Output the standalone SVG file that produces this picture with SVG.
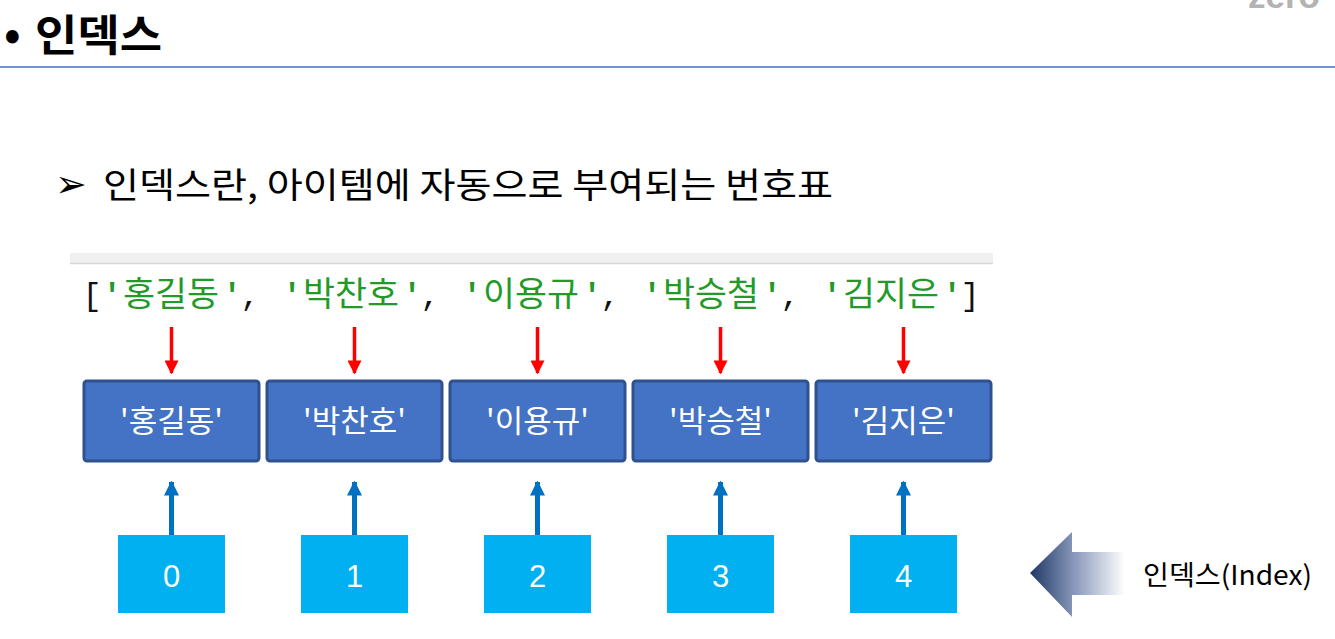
<svg xmlns="http://www.w3.org/2000/svg" width="1335" height="639" viewBox="0 0 1335 639">
<defs>
<style>
.kr{font-family:"Noto Sans CJK KR","Noto Sans",sans-serif}
.mono{font-family:"Liberation Mono","DejaVu Sans Mono",monospace}
.str{fill:#239a28}
.pun{fill:#111}
.box{fill:#4472c4;stroke:#2f528f;stroke-width:3}
.boxt{font-family:"Noto Sans CJK KR","Noto Sans",sans-serif;font-size:31px;fill:#fff;text-anchor:middle}
.idx{fill:#00b0f0}
.idxt{font-family:"Liberation Sans",Arial,sans-serif;font-size:31px;fill:#fff;text-anchor:middle}
.red{stroke:#ff0000;stroke-width:3.5;fill:none}
.blue{stroke:#0070c0;stroke-width:5;fill:none}
</style>
<marker id="ra" viewBox="0 0 10 10" refX="9" refY="5" markerWidth="4" markerHeight="4" markerUnits="strokeWidth" orient="auto">
<path d="M0,0 L10,5 L0,10 z" fill="#ff0000"/>
</marker>
<marker id="ba" viewBox="0 0 10 10" refX="9" refY="5" markerWidth="3" markerHeight="3" markerUnits="strokeWidth" orient="auto">
<path d="M0,0 L10,5 L0,10 z" fill="#0070c0"/>
</marker>
<linearGradient id="ag" gradientUnits="userSpaceOnUse" x1="1030" y1="0" x2="1125" y2="0">
<stop offset="0" stop-color="#1f3864"/>
<stop offset="0.45" stop-color="#8595b8"/>
<stop offset="1" stop-color="#ffffff"/>
</linearGradient>
</defs>
<rect width="1335" height="639" fill="#fff"/>
<text x="1248" y="8" font-family="Liberation Sans,Arial,sans-serif" font-weight="bold" font-size="35" fill="#b3b3b3">zero</text>
<g id="title">
<text x="4" y="50" class="kr" font-size="44" font-weight="bold" fill="#000">•</text>
<text x="35" y="51" class="kr" font-size="43" font-weight="bold" fill="#000" textLength="127" lengthAdjust="spacingAndGlyphs">인덱스</text>
<line x1="0" y1="67" x2="1335" y2="67" stroke="#7393cc" stroke-width="2"/>
</g>
<g id="subtitle">
<text x="55" y="197" font-family="DejaVu Sans,sans-serif" font-size="38" fill="#000">➢</text>
<text x="103" y="198" class="kr" font-size="35" fill="#000" textLength="730" lengthAdjust="spacingAndGlyphs">인덱스란, 아이템에 자동으로 부여되는 번호표</text>
</g>
<g id="code">
<rect x="70" y="253" width="923" height="10" fill="#f0f0f0"/>
<line x1="70" y1="263.5" x2="993" y2="263.5" stroke="#d6d6d6" stroke-width="1.5"/>
<text x="92" y="305" class="mono pun" font-size="32" text-anchor="middle">[</text>
<g class="mono str" font-size="32" font-weight="bold" text-anchor="middle">
<text x="112" y="305">'</text><text x="232" y="305">'</text>
<text x="292" y="305">'</text><text x="412" y="305">'</text>
<text x="472" y="305">'</text><text x="592" y="305">'</text>
<text x="652" y="305">'</text><text x="772" y="305">'</text>
<text x="832" y="305">'</text><text x="952" y="305">'</text>
</g>
<g class="mono pun" font-size="32" text-anchor="middle">
<text x="250" y="305">,</text><text x="430" y="305">,</text><text x="610" y="305">,</text><text x="790" y="305">,</text>
<text x="970" y="305">]</text>
</g>
<g class="kr str" font-size="34">
<text x="123" y="306" textLength="96" lengthAdjust="spacingAndGlyphs">홍길동</text>
<text x="303" y="306" textLength="96" lengthAdjust="spacingAndGlyphs">박찬호</text>
<text x="483" y="306" textLength="96" lengthAdjust="spacingAndGlyphs">이용규</text>
<text x="663" y="306" textLength="96" lengthAdjust="spacingAndGlyphs">박승철</text>
<text x="843" y="306" textLength="96" lengthAdjust="spacingAndGlyphs">김지은</text>
</g>
</g>
<g id="item0"><rect class="box" x="84" y="381" width="175" height="80" rx="3"/><text class="boxt" x="171.5" y="432">'홍길동'</text></g>
<g id="item1"><rect class="box" x="267" y="381" width="175" height="80" rx="3"/><text class="boxt" x="354.5" y="432">'박찬호'</text></g>
<g id="item2"><rect class="box" x="450" y="381" width="175" height="80" rx="3"/><text class="boxt" x="537.5" y="432">'이용규'</text></g>
<g id="item3"><rect class="box" x="633" y="381" width="175" height="80" rx="3"/><text class="boxt" x="720.5" y="432">'박승철'</text></g>
<g id="item4"><rect class="box" x="816" y="381" width="175" height="80" rx="3"/><text class="boxt" x="903.5" y="432">'김지은'</text></g>
<g id="index0"><rect class="idx" x="118" y="535" width="107" height="78"/><text class="idxt" x="171.5" y="587">0</text></g>
<g id="index1"><rect class="idx" x="301" y="535" width="107" height="78"/><text class="idxt" x="354.5" y="587">1</text></g>
<g id="index2"><rect class="idx" x="484" y="535" width="107" height="78"/><text class="idxt" x="537.5" y="587">2</text></g>
<g id="index3"><rect class="idx" x="667" y="535" width="107" height="78"/><text class="idxt" x="720.5" y="587">3</text></g>
<g id="index4"><rect class="idx" x="850" y="535" width="107" height="78"/><text class="idxt" x="903.5" y="587">4</text></g>
<g id="connectors">
<line class="red" x1="171.5" y1="327" x2="171.5" y2="373" marker-end="url(#ra)"/>
<line class="red" x1="354.5" y1="327" x2="354.5" y2="373" marker-end="url(#ra)"/>
<line class="red" x1="537.5" y1="327" x2="537.5" y2="373" marker-end="url(#ra)"/>
<line class="red" x1="720.5" y1="327" x2="720.5" y2="373" marker-end="url(#ra)"/>
<line class="red" x1="903.5" y1="327" x2="903.5" y2="373" marker-end="url(#ra)"/>
<line class="blue" x1="171.5" y1="535" x2="171.5" y2="482" marker-end="url(#ba)"/>
<line class="blue" x1="354.5" y1="535" x2="354.5" y2="482" marker-end="url(#ba)"/>
<line class="blue" x1="537.5" y1="535" x2="537.5" y2="482" marker-end="url(#ba)"/>
<line class="blue" x1="720.5" y1="535" x2="720.5" y2="482" marker-end="url(#ba)"/>
<line class="blue" x1="903.5" y1="535" x2="903.5" y2="482" marker-end="url(#ba)"/>
</g>
<g id="index-label">
<polygon points="1030,573 1072,532 1072,552 1126,552 1126,595 1072,595 1072,617" fill="url(#ag)"/>
<text x="1143" y="585" class="kr" font-size="27" fill="#000" textLength="169" lengthAdjust="spacingAndGlyphs">인덱스(Index)</text>
</g>
</svg>
